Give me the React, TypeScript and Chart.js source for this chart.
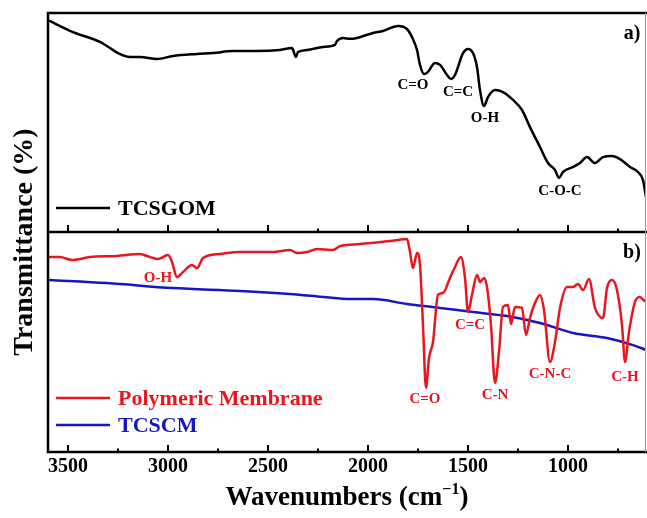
import React, { useEffect, useRef } from "react";
import { Chart, registerables } from "chart.js";

Chart.register(...registerables);

const FONT = "'Liberation Serif', 'Times New Roman', serif";

// ---- X axis ----
const X_MIN = 610;
const X_MAX = 3600;
const X_TICKS = [3500, 3000, 2500, 2000, 1500, 1000];
const X_MINOR_TICKS = [3250, 2750, 2250, 1750, 1250, 750];

// ---- a) TCSGOM ----
const TCSGOM_WN = [3595, 3475, 3340, 3290, 3250, 3190, 3140, 3055, 2975, 2855, 2775, 2675, 2555, 2440, 2380, 2360, 2350, 2305, 2225, 2165, 2155, 2125, 2090, 2055, 1975, 1925, 1850, 1805, 1780, 1755, 1740, 1720, 1700, 1665, 1640, 1605, 1585, 1565, 1525, 1500, 1475, 1455, 1440, 1420, 1400, 1365, 1325, 1275, 1230, 1190, 1140, 1100, 1065, 1045, 1025, 975, 940, 905, 865, 825, 780, 740, 690, 650, 625, 610];
const TCSGOM_T = [96.5, 91.3, 86.8, 84.0, 81.7, 79.9, 79.9, 79.0, 80.4, 81.3, 81.7, 82.6, 82.6, 83.1, 84.0, 79.9, 82.2, 83.1, 84.5, 85.4, 87.2, 88.6, 88.2, 88.6, 90.9, 91.8, 94.1, 92.7, 89.0, 83.1, 76.3, 72.1, 73.1, 77.2, 76.3, 71.7, 69.9, 71.7, 81.7, 83.6, 81.7, 75.3, 64.8, 57.5, 61.6, 64.8, 63.9, 60.3, 55.7, 47.9, 38.8, 31.5, 28.3, 24.7, 27.4, 29.7, 31.5, 34.2, 31.5, 34.2, 34.7, 33.3, 29.7, 27.4, 23.7, 16.0];

// ---- b) Polymeric Membrane ----
const MEMBRANE_WN = [3595, 3540, 3480, 3390, 3255, 3140, 3090, 3050, 3000, 2980, 2955, 2925, 2880, 2855, 2825, 2740, 2640, 2475, 2390, 2355, 2305, 2255, 2175, 2140, 2040, 1890, 1805, 1790, 1775, 1755, 1740, 1725, 1710, 1695, 1675, 1650, 1625, 1590, 1565, 1535, 1515, 1500, 1480, 1455, 1440, 1420, 1405, 1385, 1365, 1345, 1325, 1300, 1285, 1265, 1230, 1210, 1190, 1165, 1140, 1120, 1090, 1065, 1040, 1005, 975, 950, 925, 895, 865, 825, 805, 780, 755, 730, 715, 695, 665, 640, 615, 610];
const MEMBRANE_T = [88.6, 88.6, 87.3, 88.6, 89.1, 90.0, 88.6, 87.7, 89.5, 86.4, 79.5, 81.8, 85.0, 83.6, 88.2, 90.0, 90.9, 90.9, 91.8, 90.5, 90.9, 92.3, 91.8, 93.6, 94.5, 95.9, 96.8, 90.9, 83.6, 90.5, 85.0, 57.7, 29.1, 42.7, 50.0, 71.4, 72.3, 79.1, 84.1, 88.6, 79.1, 63.6, 71.4, 80.5, 77.3, 79.1, 75.0, 57.7, 31.4, 45.5, 65.9, 66.8, 58.2, 65.9, 65.5, 53.2, 60.9, 67.7, 71.4, 64.5, 40.9, 50.0, 65.5, 75.0, 75.0, 76.4, 73.6, 78.6, 65.5, 60.9, 74.5, 78.2, 73.6, 57.7, 40.9, 54.5, 68.2, 70.5, 68.6, 69.5];

// ---- b) TCSCM ----
const TCSCM_WN = [3595, 3305, 2975, 2640, 2390, 2225, 2090, 1975, 1805, 1640, 1475, 1305, 1140, 975, 805, 675, 610];
const TCSCM_T = [78.2, 76.8, 74.5, 73.2, 71.8, 70.5, 69.5, 69.5, 67.3, 65.5, 63.6, 61.8, 58.6, 54.1, 51.8, 48.6, 46.4];

// ---- band labels ----
const TOP_BAND_TEXT = ["C=O", "C=C", "O-H", "C-O-C"];
const TOP_BAND_WN = [1775, 1550, 1415, 1040];
const TOP_BAND_T = [67.1, 63.9, 52.1, 18.7];

const BOTTOM_BAND_TEXT = ["O-H", "C=C", "C=O", "C-N", "C-N-C", "C-H"];
const BOTTOM_BAND_WN = [3050, 1490, 1715, 1365, 1090, 715];
const BOTTOM_BAND_T = [79.1, 57.7, 24.1, 25.9, 35.5, 34.1];

const BLACK = "#000000";
const RED = "#e8161e";
const BLUE = "#1616c4";

// panel heights in px (top / bottom) used for y ranges
const TOP_PX = 219;
const BOTTOM_PX = 220;

const zip = (xs: number[], ys: number[]) => xs.map((x, i) => ({ x, y: ys[i] }));

const decor = {
  id: "ftirDecor",
  afterDatasetsDraw(chart: any) {
    const { ctx, chartArea } = chart;
    const { left, right, top, bottom } = chartArea;
    const xs = chart.scales.x;
    const yT = chart.scales.yTop;
    const yB = chart.scales.yBottom;
    const divY = yB.getPixelForValue(100);

    ctx.save();
    // frames
    ctx.strokeStyle = "#000";
    ctx.lineWidth = 2.5;
    ctx.beginPath();
    ctx.moveTo(left, top);
    ctx.lineTo(right + 2, top);
    ctx.moveTo(left, top - 1.25);
    ctx.lineTo(left, bottom + 1.25);
    ctx.moveTo(left, divY);
    ctx.lineTo(right + 2, divY);
    ctx.moveTo(left, bottom);
    ctx.lineTo(right + 2, bottom);
    ctx.stroke();
    ctx.strokeStyle = "#9a9a9a";
    ctx.lineWidth = 1;
    ctx.beginPath();
    ctx.moveTo(right - 0.5, top);
    ctx.lineTo(right - 0.5, bottom);
    ctx.stroke();

    // tick marks (inward) at the bottom of each panel
    ctx.strokeStyle = "#000";
    ctx.lineWidth = 2;
    [divY, bottom].forEach((b) => {
      ctx.beginPath();
      X_TICKS.forEach((v) => {
        const px = Math.round(xs.getPixelForValue(v));
        ctx.moveTo(px, b);
        ctx.lineTo(px, b - 7);
      });
      X_MINOR_TICKS.forEach((v) => {
        const px = Math.round(xs.getPixelForValue(v));
        ctx.moveTo(px, b);
        ctx.lineTo(px, b - 3.5);
      });
      ctx.stroke();
    });

    // band labels
    ctx.textAlign = "center";
    ctx.textBaseline = "middle";
    ctx.font = `bold 15px ${FONT}`;
    ctx.fillStyle = BLACK;
    TOP_BAND_TEXT.forEach((t, i) => {
      ctx.fillText(t, xs.getPixelForValue(TOP_BAND_WN[i]), yT.getPixelForValue(TOP_BAND_T[i]));
    });
    ctx.fillStyle = RED;
    BOTTOM_BAND_TEXT.forEach((t, i) => {
      ctx.fillText(t, xs.getPixelForValue(BOTTOM_BAND_WN[i]), yB.getPixelForValue(BOTTOM_BAND_T[i]));
    });

    // panel letters
    ctx.fillStyle = "#000";
    ctx.font = `bold 20px ${FONT}`;
    ctx.fillText("a)", right - 14, top + 21);
    ctx.fillText("b)", right - 14, divY + 21);

    // legends
    const ds = chart.data.datasets;
    const legendItems = [
      { i: 0, y: divY - 24 },
      { i: 1, y: bottom - 54 },
      { i: 2, y: bottom - 27 },
    ];
    ctx.textAlign = "left";
    ctx.font = `bold 22px ${FONT}`;
    legendItems.forEach(({ i, y }) => {
      const d = ds[i];
      ctx.strokeStyle = d.borderColor;
      ctx.lineWidth = 2.5;
      ctx.beginPath();
      ctx.moveTo(left + 8, y);
      ctx.lineTo(left + 62, y);
      ctx.stroke();
      ctx.fillStyle = d.borderColor;
      ctx.fillText(d.label, left + 70, y + 1);
    });

    // y title
    ctx.fillStyle = "#000";
    ctx.save();
    ctx.translate(25, 242);
    ctx.rotate(-Math.PI / 2);
    ctx.textAlign = "center";
    ctx.textBaseline = "middle";
    ctx.font = `bold 28px ${FONT}`;
    ctx.fillText("Transmittance (%)", 0, 0);
    ctx.restore();

    // x title with superscript
    const main1 = "Wavenumbers (cm";
    const sup = "\u22121";
    const main2 = ")";
    const bigFont = `bold 27px ${FONT}`;
    const supFont = `bold 16px ${FONT}`;
    ctx.textBaseline = "alphabetic";
    ctx.textAlign = "left";
    ctx.font = bigFont;
    const w1 = ctx.measureText(main1).width;
    const w2 = ctx.measureText(main2).width;
    ctx.font = supFont;
    const ws = ctx.measureText(sup).width;
    const cx = (left + right) / 2;
    const base = 505;
    let sx = cx - (w1 + ws + w2) / 2;
    ctx.font = bigFont;
    ctx.fillText(main1, sx, base);
    sx += w1;
    ctx.font = supFont;
    ctx.fillText(sup, sx, base - 11);
    sx += ws;
    ctx.font = bigFont;
    ctx.fillText(main2, sx, base);

    ctx.restore();
  },
};

export default function App() {
  const ref = useRef<HTMLCanvasElement | null>(null);

  useEffect(() => {
    if (!ref.current) return;
    Chart.defaults.font.family = FONT;
    const chart = new Chart(ref.current, {
      type: "line",
      data: {
        datasets: [
          {
            label: "TCSGOM",
            data: zip(TCSGOM_WN, TCSGOM_T),
            borderColor: BLACK,
            backgroundColor: BLACK,
            borderWidth: 2.5,
            pointRadius: 0,
            cubicInterpolationMode: "monotone",
            yAxisID: "yTop",
          },
          {
            label: "Polymeric Membrane",
            data: zip(MEMBRANE_WN, MEMBRANE_T),
            borderColor: RED,
            backgroundColor: RED,
            borderWidth: 2.5,
            pointRadius: 0,
            cubicInterpolationMode: "monotone",
            yAxisID: "yBottom",
          },
          {
            label: "TCSCM",
            data: zip(TCSCM_WN, TCSCM_T),
            borderColor: BLUE,
            backgroundColor: BLUE,
            borderWidth: 2.5,
            pointRadius: 0,
            cubicInterpolationMode: "monotone",
            yAxisID: "yBottom",
          },
        ],
      },
      options: {
        responsive: false,
        animation: false,
        layout: { padding: { left: 48, right: 1, top: 13, bottom: 0 } },
        plugins: { legend: { display: false }, tooltip: { enabled: false }, title: { display: false } },
        scales: {
          x: {
            type: "linear",
            reverse: true,
            min: X_MIN,
            max: X_MAX,
            afterBuildTicks: (s: any) => {
              s.ticks = X_TICKS.map((v) => ({ value: v }));
            },
            afterFit: (s: any) => {
              s.height = 66;
            },
            ticks: {
              autoSkip: false,
              maxRotation: 0,
              minRotation: 0,
              padding: 3,
              color: "#000",
              font: { family: FONT, size: 20, weight: "bold" },
              callback: (v: any) => String(v),
            },
            grid: { display: false, drawTicks: false },
            border: { display: false },
          },
          yTop: {
            type: "linear",
            display: false,
            min: -100 * (BOTTOM_PX / TOP_PX),
            max: 100,
          },
          yBottom: {
            type: "linear",
            display: false,
            min: 0,
            max: 100 + 100 * (TOP_PX / BOTTOM_PX),
          },
        },
      },
      plugins: [decor],
    });
    return () => chart.destroy();
  }, []);

  return (
    <div style={{ position: "absolute", left: 0, top: 0, width: 647, height: 518, background: "#fff" }}>
      <canvas ref={ref} width={647} height={518} style={{ display: "block", width: 647, height: 518 }} />
    </div>
  );
}
